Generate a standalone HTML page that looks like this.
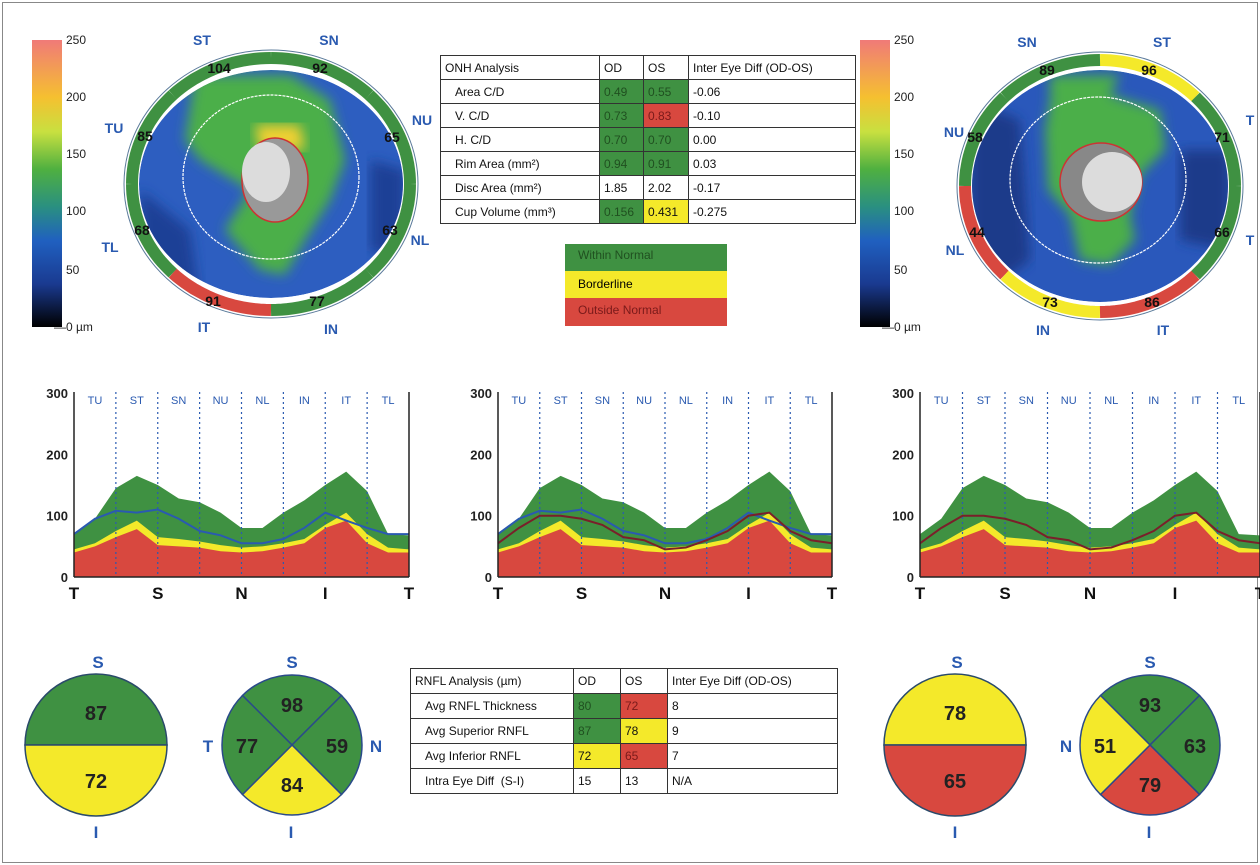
<!DOCTYPE html>
<html><head><meta charset="utf-8">
<style>
body{margin:0;background:#fff;font-family:"Liberation Sans",sans-serif;}
#root{position:relative;width:1260px;height:865px;overflow:hidden;background:#fff;}
.frame{position:absolute;left:2px;top:2px;width:1254px;height:859px;border:1px solid #888;}
.lbl{position:absolute;font-size:14px;color:#2a5ab0;font-weight:bold;transform:translate(-50%,-50%);}
.num{position:absolute;font-size:14px;color:#111;font-weight:bold;transform:translate(-50%,-50%);}
table{position:absolute;border-collapse:collapse;font-size:12px;color:#111;}
td{border:1px solid #333;padding:0 4px;height:23px;white-space:nowrap;}
.g{background:#3f9142;color:#205020;}.y{background:#f4e92a;}.r{background:#d8483f;color:#7a1a1a;}
.cb{position:absolute;font-size:12px;color:#222;}
</style></head><body>
<div id="root">
<div class="frame"></div>

<svg width="1260" height="865" style="position:absolute;left:0;top:0">
<defs>
<linearGradient id="cbg" x1="0" y1="0" x2="0" y2="1">
<stop offset="0" stop-color="#f07a78"/><stop offset="0.2" stop-color="#f5c030"/><stop offset="0.32" stop-color="#c8e040"/><stop offset="0.45" stop-color="#4fb040"/><stop offset="0.58" stop-color="#2a9080"/><stop offset="0.7" stop-color="#2060c0"/><stop offset="0.85" stop-color="#1a3a90"/><stop offset="1" stop-color="#000"/>
</linearGradient>
<filter id="bl"><feGaussianBlur stdDeviation="6"/></filter>
<clipPath id="cl1"><ellipse cx="271" cy="184" rx="132" ry="114"/></clipPath>
<clipPath id="cl2"><ellipse cx="1100" cy="186" rx="128" ry="116"/></clipPath>
</defs>
<rect x="32" y="40" width="30" height="287" fill="url(#cbg)"/>
<rect x="860" y="40" width="30" height="287" fill="url(#cbg)"/>
<g id="ring1"></g>
<g id="ring2"></g>
<g clip-path="url(#cl1)">
<ellipse cx="271" cy="184" rx="132" ry="114" fill="#2d5ec0"/>
<path d="M195 75 L290 75 L330 100 L345 160 L330 200 L305 240 L285 275 L260 270 L225 230 L250 190 L200 160 L185 140 Z" fill="#4caf48" filter="url(#bl)"/>
<path d="M255 125 L300 125 L305 150 L260 150 Z" fill="#f0d030" filter="url(#bl)"/>
<path d="M140 190 L190 230 L200 300 L140 280 Z" fill="#1e3f96" filter="url(#bl)"/>
<path d="M370 160 L405 170 L405 260 L370 250 Z" fill="#1e3f96" filter="url(#bl)"/>
<ellipse cx="271" cy="177" rx="88" ry="82" fill="none" stroke="#fff" stroke-width="1.2" stroke-dasharray="3,1"/>
<ellipse cx="275" cy="180" rx="33" ry="42" fill="#999" stroke="#c33" stroke-width="1.5"/>
<ellipse cx="266" cy="172" rx="24" ry="30" fill="#dcdcdc"/>
</g>
<g clip-path="url(#cl2)">
<ellipse cx="1100" cy="186" rx="128" ry="116" fill="#2a58bb"/>
<path d="M1050 75 L1120 75 L1110 95 L1160 110 L1165 150 L1140 175 L1130 215 L1135 240 L1110 265 L1080 260 L1070 215 L1048 190 L1045 130 L1050 100 Z" fill="#4caf48" filter="url(#bl)"/>
<path d="M970 100 L1020 120 L1030 260 L990 290 L970 250 Z" fill="#1e3a8a" filter="url(#bl)"/>
<path d="M1180 150 L1230 150 L1230 250 L1180 240 Z" fill="#1e3a8a" filter="url(#bl)"/>
<ellipse cx="1098" cy="180" rx="88" ry="83" fill="none" stroke="#fff" stroke-width="1.2" stroke-dasharray="3,1"/>
<ellipse cx="1101" cy="182" rx="41" ry="39" fill="#888" stroke="#c33" stroke-width="1.5"/>
<ellipse cx="1112" cy="182" rx="30" ry="30" fill="#dcdcdc"/>
</g>
<g id="charts"></g>
<g id="pies"></g>
</svg>

<div class="cb" style="left:66px;top:33px">250</div><div class="cb" style="left:66px;top:90px">200</div><div class="cb" style="left:66px;top:147px">150</div><div class="cb" style="left:66px;top:204px">100</div><div class="cb" style="left:66px;top:263px">50</div><div class="cb" style="left:54px;top:320px">—0 µm</div>
<div class="cb" style="left:894px;top:33px">250</div><div class="cb" style="left:894px;top:90px">200</div><div class="cb" style="left:894px;top:147px">150</div><div class="cb" style="left:894px;top:204px">100</div><div class="cb" style="left:894px;top:263px">50</div><div class="cb" style="left:882px;top:320px">—0 µm</div>

<div class="lbl" style="left:202px;top:40px">ST</div><div class="lbl" style="left:329px;top:40px">SN</div>
<div class="lbl" style="left:114px;top:128px">TU</div><div class="lbl" style="left:422px;top:120px">NU</div>
<div class="lbl" style="left:110px;top:247px">TL</div><div class="lbl" style="left:420px;top:240px">NL</div>
<div class="lbl" style="left:204px;top:327px">IT</div><div class="lbl" style="left:331px;top:329px">IN</div>
<div class="num" style="left:219px;top:68px">104</div><div class="num" style="left:320px;top:68px">92</div>
<div class="num" style="left:145px;top:136px">85</div><div class="num" style="left:392px;top:137px">65</div>
<div class="num" style="left:142px;top:230px">68</div><div class="num" style="left:390px;top:230px">63</div>
<div class="num" style="left:213px;top:301px">91</div><div class="num" style="left:317px;top:301px">77</div>

<div class="lbl" style="left:1027px;top:42px">SN</div><div class="lbl" style="left:1162px;top:42px">ST</div>
<div class="lbl" style="left:954px;top:132px">NU</div><div class="lbl" style="left:955px;top:250px">NL</div>
<div class="lbl" style="left:1043px;top:330px">IN</div><div class="lbl" style="left:1163px;top:330px">IT</div>
<div class="lbl" style="left:1250px;top:120px">T</div><div class="lbl" style="left:1250px;top:240px">T</div>
<div class="num" style="left:1047px;top:70px">89</div><div class="num" style="left:1149px;top:70px">96</div>
<div class="num" style="left:975px;top:137px">58</div><div class="num" style="left:1222px;top:137px">71</div>
<div class="num" style="left:977px;top:232px">44</div><div class="num" style="left:1222px;top:232px">66</div>
<div class="num" style="left:1050px;top:302px">73</div><div class="num" style="left:1152px;top:302px">86</div>

<table style="left:440px;top:55px;width:416px">
<tr><td style="width:150px">ONH Analysis</td><td style="width:35px">OD</td><td style="width:36px">OS</td><td>Inter Eye Diff (OD-OS)</td></tr>
<tr><td>&nbsp;&nbsp;&nbsp;Area C/D</td><td class="g">0.49</td><td class="g">0.55</td><td>-0.06</td></tr>
<tr><td>&nbsp;&nbsp;&nbsp;V. C/D</td><td class="g">0.73</td><td class="r">0.83</td><td>-0.10</td></tr>
<tr><td>&nbsp;&nbsp;&nbsp;H. C/D</td><td class="g">0.70</td><td class="g">0.70</td><td>0.00</td></tr>
<tr><td>&nbsp;&nbsp;&nbsp;Rim Area (mm²)</td><td class="g">0.94</td><td class="g">0.91</td><td>0.03</td></tr>
<tr><td>&nbsp;&nbsp;&nbsp;Disc Area (mm²)</td><td>1.85</td><td>2.02</td><td>-0.17</td></tr>
<tr><td>&nbsp;&nbsp;&nbsp;Cup Volume (mm³)</td><td class="g">0.156</td><td class="y">0.431</td><td>-0.275</td></tr>
</table>
<div style="position:absolute;left:565px;top:244px;width:162px;font-size:12px">
<div class="g" style="height:27px;line-height:22px;padding-left:13px">Within Normal</div>
<div class="y" style="height:27px;line-height:27px;padding-left:13px">Borderline</div>
<div class="r" style="height:28px;line-height:24px;padding-left:13px">Outside Normal</div>
</div>

<table style="left:410px;top:668px;width:428px">
<tr><td style="width:154px;height:24px">RNFL Analysis (µm)</td><td style="width:38px">OD</td><td style="width:38px">OS</td><td>Inter Eye Diff (OD-OS)</td></tr>
<tr><td style="height:24px">&nbsp;&nbsp;&nbsp;Avg RNFL Thickness</td><td class="g">80</td><td class="r">72</td><td>8</td></tr>
<tr><td style="height:24px">&nbsp;&nbsp;&nbsp;Avg Superior RNFL</td><td class="g">87</td><td class="y">78</td><td>9</td></tr>
<tr><td style="height:24px">&nbsp;&nbsp;&nbsp;Avg Inferior RNFL</td><td class="y">72</td><td class="r">65</td><td>7</td></tr>
<tr><td style="height:24px">&nbsp;&nbsp;&nbsp;Intra Eye Diff &nbsp;(S-I)</td><td>15</td><td>13</td><td>N/A</td></tr>
</table>

<script>
// TSNIT chart data: 17 samples across T-S-N-I-T
const sectors=['TU','ST','SN','NU','NL','IN','IT','TL'];
const bottomLabels=['T','S','N','I','T'];
const yTicks=[0,100,200,300];
const normGreen=[70,95,145,165,150,128,122,105,80,80,105,125,150,172,140,70,68];
const normYellow=[45,55,75,92,65,62,58,52,48,50,55,62,85,105,70,48,45];
const normRed=[40,50,65,78,52,50,48,42,40,42,48,55,80,92,55,40,40];
const odLine=[70,95,108,105,110,95,75,68,55,55,62,80,105,92,80,70,70];
const osLine=[55,80,100,100,95,85,65,60,45,48,60,75,100,105,75,60,55];
// sector ring values
const odRing=[104,92,65,63,77,91,68,85];
const osRing=[89,96,58,44,73,86,66,71];

const NS='http://www.w3.org/2000/svg';
function mk(tag,attrs,parent){const e=document.createElementNS(NS,tag);for(const k in attrs)e.setAttribute(k,attrs[k]);parent.appendChild(e);return e;}
const charts=document.getElementById('charts');
function drawChart(x0,w,lines,name){
  const g=mk('g',{},charts);
  
  
  const y0=577,ppu=61.3/100;
  const X=i=>x0+w*i/(normGreen.length-1), Y=v=>y0-v*ppu;
  function area(arr,col){let d='M'+X(0)+' '+y0;arr.forEach((v,i)=>d+=' L'+X(i)+' '+Y(v));d+=' L'+X(arr.length-1)+' '+y0+'Z';const p=mk('path',{d:d,fill:col},g);}
  area(normGreen,'#3f9142');area(normYellow,'#f4e92a');area(normRed,'#d8483f');
  for(let s=1;s<8;s++){const x=x0+w*s/8;const l=mk('line',{x1:x,x2:x,y1:392,y2:577,stroke:'#2a5ab0','stroke-dasharray':'2,3','stroke-width':1.2},g);}
  sectors.forEach((s,i)=>{const t=mk('text',{x:x0+w*(i+0.5)/8,y:404,'font-size':11,fill:'#2a5ab0','text-anchor':'middle'},g);t.textContent=s;});
  lines.forEach(([arr,col])=>{let d='';arr.forEach((v,i)=>d+=(i?' L':'M')+X(i)+' '+Y(v));const p=mk('path',{d:d,fill:'none',stroke:col,'stroke-width':2},g);});
  mk('line',{x1:x0,x2:x0,y1:392,y2:577,stroke:'#222','stroke-width':1.5},g);
  mk('line',{x1:x0+w,x2:x0+w,y1:392,y2:577,stroke:'#222','stroke-width':1.5},g);
  mk('line',{x1:x0,x2:x0+w,y1:577,y2:577,stroke:'#222','stroke-width':1.5},g);
  yTicks.forEach(v=>{const t=mk('text',{x:x0-6,y:Y(v)+5,'font-size':13,'font-weight':'bold',fill:'#222','text-anchor':'end'},g);t.textContent=v;});
  bottomLabels.forEach((s,i)=>{const t=mk('text',{x:x0+w*i/4,y:599,'font-size':17,'font-weight':'bold',fill:'#111','text-anchor':'middle'},g);t.textContent=s;});
}
drawChart(74,335,[[odLine,'#2a5ab0']],'tsnit-od');
drawChart(498,334,[[odLine,'#2a5ab0'],[osLine,'#7a1f2a']],'tsnit-both');
drawChart(920,340,[[osLine,'#7a1f2a']],'tsnit-os');

const col={g:'#3f9142',y:'#f4e92a',r:'#d8483f'};
function earc(cx,cy,rx,ry,a1,a2){let d='';for(let k=0;k<=20;k++){const a=(a1+(a2-a1)*k/20)*Math.PI/180;d+=(k?' L':'M')+(cx+rx*Math.cos(a)).toFixed(1)+' '+(cy-ry*Math.sin(a)).toFixed(1);}return d;}
function ring(id,cx,cy,rx,ry,segs){const g=document.getElementById(id);
  mk('ellipse',{cx:cx,cy:cy,rx:rx,ry:ry,fill:'#fff',stroke:'#5a7a9a'},g);
  segs.forEach(([a1,a2,c])=>{const p=mk('path',{d:earc(cx,cy,rx-8,ry-8,a1,a2),stroke:col[c],'stroke-width':12,fill:'none'},g);});}
ring('ring1',271,184,147,134,[[90,135,'g'],[45,90,'g'],[0,45,'g'],[-45,0,'g'],[-90,-45,'g'],[-135,-90,'r'],[180,225,'g'],[135,180,'g']]);
ring('ring2',1100,186,143,134,[[45,90,'y'],[90,135,'g'],[135,180,'g'],[180,225,'r'],[225,270,'y'],[270,315,'r'],[315,360,'g'],[0,45,'g']]);

const pies=document.getElementById('pies');
function txt(x,y,s,sz,c,name){const t=mk('text',{x:x,y:y,'font-size':sz,'font-weight':'bold',fill:c,'text-anchor':'middle'},pies);t.textContent=s;}
function half(cx,cy,top,bot,ct,cb){const r=71;
  mk('path',{d:`M${cx-r} ${cy} A${r} ${r} 0 0 1 ${cx+r} ${cy} Z`,fill:col[ct],stroke:'#2a4a6a','stroke-width':1.5},pies);
  mk('path',{d:`M${cx-r} ${cy} A${r} ${r} 0 0 0 ${cx+r} ${cy} Z`,fill:col[cb],stroke:'#2a4a6a','stroke-width':1.5},pies);
  txt(cx,cy-25,top,20,'#222','superior-value');txt(cx,cy+43,bot,20,'#222','inferior-value');
  txt(cx+2,cy-77,'S',17,'#2a5ab0','s-label');txt(cx,cy+93,'I',17,'#2a5ab0','i-label');}
function quad(cx,cy,vals,cols,left,right){const r=70;
  const pts=[[-135,-45],[-45,45],[45,135],[135,225]];
  pts.forEach(([a1,a2],i)=>{const p=a=>[cx+r*Math.cos(a*Math.PI/180),cy+r*Math.sin(a*Math.PI/180)];const [x1,y1]=p(a1),[x2,y2]=p(a2);
    mk('path',{d:`M${cx} ${cy} L${x1} ${y1} A${r} ${r} 0 0 1 ${x2} ${y2} Z`,fill:col[cols[i]],stroke:'#2a4a8a','stroke-width':1.5},pies);});
  txt(cx,cy-33,vals[0],20,'#222','quadrant-value');txt(cx+45,cy+8,vals[1],20,'#222','quadrant-value');
  txt(cx,cy+47,vals[2],20,'#222','quadrant-value');txt(cx-45,cy+8,vals[3],20,'#222','quadrant-value');
  txt(cx,cy-77,'S',17,'#2a5ab0','s-label');txt(cx-1,cy+93,'I',17,'#2a5ab0','i-label');
  txt(cx-84,cy+7,left,17,'#2a5ab0','side-label');txt(cx+84,cy+7,right,17,'#2a5ab0','side-label');}
half(96,745,'87','72','g','y');
quad(292,745,['98','59','84','77'],['g','g','y','g'],'T','N');
half(955,745,'78','65','y','r');
quad(1150,745,['93','63','79','51'],['g','g','r','y'],'N','');
</script>
</div>
</body></html>
